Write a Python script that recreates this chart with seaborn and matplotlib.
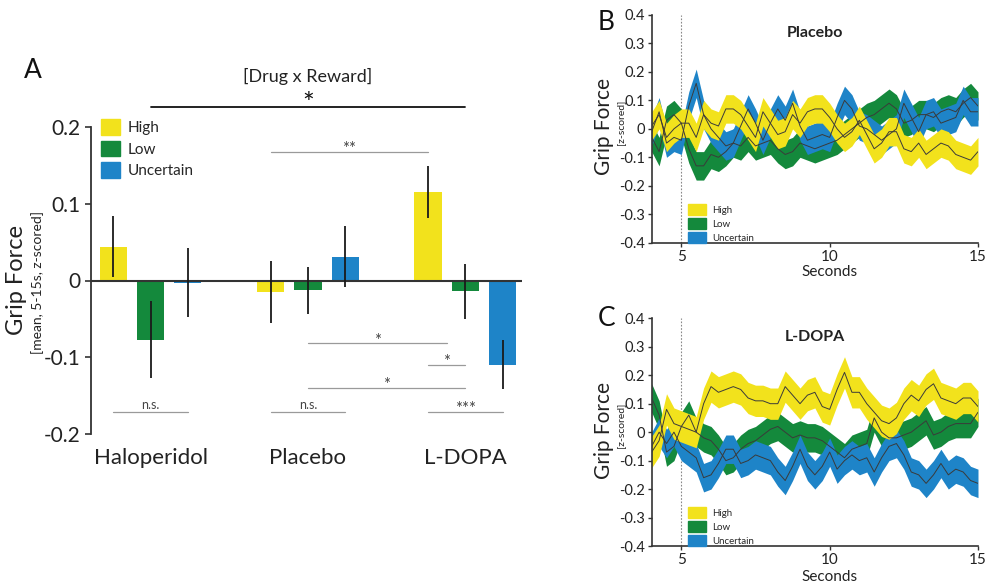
import matplotlib
matplotlib.use('Agg')
import matplotlib.pyplot as plt
import matplotlib.patches as mpatches
import seaborn as sns
import numpy as np
import pandas as pd

# ---- Panel A: mean grip force (5-15 s) per drug and reward ----
drugs = ['Haloperidol', 'Placebo', 'L-DOPA']
rewards = ['High', 'Low', 'Uncertain']
colors = ['#f2e21c', '#14893c', '#1e84c8']

high_mean = [0.044, -0.015, 0.115]
low_mean = [-0.077, -0.013, -0.014]
unc_mean = [-0.003, 0.031, -0.110]
high_err = [0.040, 0.040, 0.034]
low_err = [0.050, 0.030, 0.036]
unc_err = [0.045, 0.040, 0.032]

# ---- Panels B/C: grip force time courses (mean and band half-width) ----
t = [4.0, 4.25, 4.5, 4.75, 5.0, 5.25, 5.5, 5.75, 6.0, 6.25, 6.5, 6.75,
     7.0, 7.25, 7.5, 7.75, 8.0, 8.25, 8.5, 8.75, 9.0, 9.25, 9.5, 9.75,
     10.0, 10.25, 10.5, 10.75, 11.0, 11.25, 11.5, 11.75, 12.0, 12.25, 12.5, 12.75,
     13.0, 13.25, 13.5, 13.75, 14.0, 14.25, 14.5, 14.75, 15.0]

plc_high = [0.01, 0.05, -0.03, 0.00, 0.02, 0.02, -0.03, 0.05, 0.02, 0.01, 0.07, 0.07,
            0.05, 0.01, -0.03, 0.06, 0.02, -0.02, -0.01, 0.05, 0.02, 0.06, 0.07, 0.07,
            0.04, 0.00, -0.03, -0.01, 0.03, -0.02, -0.07, -0.05, -0.01, -0.01, -0.07, -0.08,
            -0.05, -0.09, -0.07, -0.05, -0.06, -0.09, -0.10, -0.11, -0.08]
plc_low = [-0.03, -0.08, 0.03, 0.05, 0.02, -0.07, -0.13, -0.13, -0.09, -0.10, -0.08, -0.05,
           -0.06, -0.03, -0.06, -0.05, -0.04, -0.07, -0.09, -0.08, -0.05, -0.06, -0.07, -0.06,
           -0.05, -0.04, -0.02, 0.00, 0.02, 0.04, 0.05, 0.07, 0.09, 0.07, 0.02, 0.03,
           0.05, 0.05, 0.04, 0.06, 0.07, 0.06, 0.09, 0.11, 0.08]
plc_unc = [-0.01, 0.06, -0.05, -0.03, -0.04, 0.08, 0.16, 0.05, 0.00, -0.03, -0.06, -0.05,
           0.01, 0.07, 0.02, -0.04, 0.02, 0.07, 0.03, 0.09, 0.01, -0.04, -0.03, -0.02,
           -0.03, 0.04, 0.10, 0.07, 0.01, 0.00, -0.02, -0.04, -0.02, 0.00, 0.09, 0.04,
           -0.01, 0.05, 0.06, 0.02, 0.03, 0.04, 0.10, 0.06, 0.06]

ldp_high = [-0.07, -0.03, 0.08, 0.03, 0.02, 0.01, 0.00, 0.10, 0.16, 0.14, 0.15, 0.16,
            0.15, 0.12, 0.11, 0.11, 0.10, 0.10, 0.16, 0.13, 0.10, 0.13, 0.14, 0.09,
            0.08, 0.15, 0.21, 0.14, 0.14, 0.10, 0.07, 0.04, 0.03, 0.05, 0.10, 0.13,
            0.11, 0.15, 0.17, 0.12, 0.11, 0.10, 0.12, 0.12, 0.09]
ldp_low = [0.12, 0.06, -0.07, -0.05, 0.02, 0.06, 0.00, -0.02, -0.03, -0.06, -0.10, -0.09,
           -0.06, -0.04, -0.03, -0.01, 0.01, 0.02, 0.00, -0.02, -0.01, -0.02, -0.02, -0.03,
           -0.05, -0.07, -0.09, -0.06, -0.05, -0.04, 0.05, 0.00, -0.02, -0.02, -0.01, 0.00,
           0.02, 0.04, -0.01, 0.00, 0.02, 0.03, 0.03, 0.03, 0.07]
ldp_unc = [-0.05, 0.00, -0.04, 0.00, -0.05, -0.07, -0.09, -0.16, -0.15, -0.11, -0.06, -0.06,
           -0.11, -0.10, -0.08, -0.09, -0.10, -0.14, -0.17, -0.12, -0.06, -0.12, -0.15, -0.12,
           -0.07, -0.13, -0.10, -0.08, -0.10, -0.09, -0.14, -0.09, -0.05, -0.04, -0.08, -0.14,
           -0.15, -0.18, -0.15, -0.11, -0.15, -0.13, -0.14, -0.17, -0.18]

plc_halfwidth = [0.05, 0.05, 0.05]
ldp_halfwidth = [0.055, 0.05, 0.05]

sns.set_style('ticks')
plt.rcParams['font.family'] = ['Lato', 'DejaVu Sans']
plt.rcParams['axes.unicode_minus'] = False

W, H = 988, 588
fig = plt.figure(figsize=(W / 100, H / 100), dpi=100)


def fx(x):
    return x / W


def fy(y):
    return 1 - y / H


def ylab(v):
    return '0' if abs(v) < 1e-9 else f'{v:.1f}'


# ================= Panel A =================
axA = fig.add_axes([fx(90.7), fy(434), fx(522) - fx(90.7), fy(127) - fy(434)])
df = pd.DataFrame({
    'drug': drugs * 3,
    'reward': [r for r in rewards for _ in drugs],
    'value': high_mean + low_mean + unc_mean,
})
sns.barplot(data=df, x='drug', y='value', hue='reward', order=drugs, hue_order=rewards,
            palette=colors, saturation=1, width=0.71, gap=0.27, errorbar=None,
            legend=False, edgecolor='none', ax=axA)

centers = {}
for cont, rw, means, errs in zip(axA.containers, rewards,
                                 [high_mean, low_mean, unc_mean],
                                 [high_err, low_err, unc_err]):
    xs = [b.get_x() + b.get_width() / 2 for b in cont]
    centers[rw] = xs
    axA.errorbar(xs, means, yerr=errs, fmt='none', ecolor='#1a1a1a', elinewidth=1.3,
                 capsize=0, zorder=4)

axA.set_xlim(-0.38, 2.36)
axA.set_ylim(-0.2, 0.2)
axA.axhline(0, color='#333333', lw=1.5, zorder=3)
sns.despine(ax=axA, bottom=True)
axA.spines['left'].set_color('#333333')
axA.spines['left'].set_linewidth(1.3)
yt = [0.2, 0.1, 0.0, -0.1, -0.2]
axA.set_yticks(yt)
axA.set_yticklabels([ylab(v) for v in yt], fontsize=15, color='#222222')
axA.tick_params(axis='y', direction='out', length=4, width=1.2, pad=3, color='#333333')
axA.tick_params(axis='x', length=0, pad=10)
axA.set_xticks([0, 1, 2])
axA.set_xticklabels(drugs, fontsize=16, color='#222222')
axA.set_xlabel('')
axA.set_ylabel('')

fig.text(fx(17), fy(280), 'Grip Force', rotation=90, fontsize=17, ha='center', va='center',
         color='#222222')
fig.text(fx(38), fy(282), '[mean, 5-15s, z-scored]', rotation=90, fontsize=10,
         ha='center', va='center', color='#222222')
fig.text(fx(33), fy(70), 'A', fontsize=19, ha='center', va='center', color='#111111')

handles = [mpatches.Patch(color=c, label=r) for c, r in zip(colors, rewards)]
axA.legend(handles=handles, loc='upper left', bbox_to_anchor=(0.024, 1.025), frameon=False,
           fontsize=11, handlelength=1.25, handleheight=1.2, labelspacing=0.35,
           handletextpad=0.5, borderpad=0, borderaxespad=0)

# significance annotations
gray = '#9a9a9a'


def bracket(x0, x1, y, label, size=12, off=-1.5):
    axA.plot([x0, x1], [y, y], color=gray, lw=0.9, clip_on=False, zorder=2)
    axA.annotate(label, xy=((x0 + x1) / 2, y), xytext=(0, off), textcoords='offset points',
                 ha='center', va='baseline', fontsize=size, color='#444444',
                 annotation_clip=False)


ld_mid = (centers['High'][2] + centers['Low'][2]) / 2
bracket(centers['High'][1], centers['High'][2], 0.167, '**')
bracket(centers['Low'][1], ld_mid, -0.082, '*')
bracket(centers['High'][2], centers['Low'][2], -0.110, '*')
bracket(centers['Low'][1], centers['Low'][2], -0.140, '*')
bracket(centers['High'][0], centers['Uncertain'][0], -0.171, 'n.s.', size=9, off=2)
bracket(centers['High'][1], centers['Uncertain'][1], -0.171, 'n.s.', size=9, off=2)
bracket(centers['High'][2], centers['Uncertain'][2], -0.171, '***')

axA.plot([0, 2], [0.226, 0.226], color='#111111', lw=1.3, clip_on=False)
axA.annotate('*', xy=(1, 0.226), xytext=(0, -4), textcoords='offset points', ha='center',
             va='baseline', fontsize=20, color='#111111', annotation_clip=False)
axA.text(1, 0.266, '[Drug x Reward]', ha='center', va='center', fontsize=13,
         color='#222222', clip_on=False)


# ================= Panels B and C =================
def trace_panel(rect, title, letter, letter_pos, high, low, unc, hw, sec_y):
    ax = fig.add_axes(rect)
    series = [('Low', low, hw[1], colors[1]),
              ('Uncertain', unc, hw[2], colors[2]),
              ('High', high, hw[0], colors[0])]
    for name, vals, w, c in series:
        v = np.array(vals)
        ax.fill_between(t, v - w, v + w, color=c, lw=0, zorder=2)
        sns.lineplot(x=t, y=vals, color='#3a3a3a', lw=0.7, ax=ax, zorder=3)
    ax.axvline(5, color='#888888', lw=0.8, ls=(0, (1.5, 1.5)), zorder=1)
    ax.set_xlim(4.0, 15.0)
    ax.set_ylim(-0.4, 0.4)
    sns.despine(ax=ax)
    for s in ['left', 'bottom']:
        ax.spines[s].set_color('#333333')
        ax.spines[s].set_linewidth(1.2)
    yts = [0.4, 0.3, 0.2, 0.1, 0.0, -0.1, -0.2, -0.3, -0.4]
    ax.set_yticks(yts)
    ax.set_yticklabels([ylab(v) for v in yts], fontsize=10.5, color='#222222')
    ax.set_xticks([5, 10, 15])
    ax.set_xticklabels(['5', '10', '15'], fontsize=11, color='#222222')
    ax.tick_params(direction='out', length=3, width=1.0, pad=2, color='#333333')
    ax.set_xlabel('')
    ax.set_ylabel('')
    ax.text(0.5, 1.0 - 0.08, title, transform=ax.transAxes, ha='center', va='center',
            fontsize=11.5, fontweight='bold', color='#222222')
    ax.legend(handles=[mpatches.Patch(color=c, label=r) for c, r in zip(colors, rewards)],
              loc='lower left', bbox_to_anchor=(0.11, 0.0), frameon=False, fontsize=7,
              handlelength=1.9, handleheight=1.3, labelspacing=0.35, handletextpad=0.6,
              borderpad=0, borderaxespad=0)
    top_px = (1 - rect[1] - rect[3]) * H
    bot_px = (1 - rect[1]) * H
    mid_px = (top_px + bot_px) / 2
    fig.text(fx(604), fy(mid_px - 2), 'Grip Force', rotation=90, fontsize=15, ha='center',
             va='center', color='#222222')
    fig.text(fx(621), fy(mid_px - 7), '[z-scored]', rotation=90, fontsize=7.5, ha='center',
             va='center', color='#222222')
    fig.text(fx(830), fy(sec_y), 'Seconds', fontsize=11, ha='center', va='center',
             color='#222222')
    fig.text(fx(letter_pos[0]), fy(letter_pos[1]), letter, fontsize=19, ha='center',
             va='center', color='#111111')
    return ax


right = 978
axB = trace_panel([fx(651.7), fy(242.7), fx(right) - fx(651.7), fy(15) - fy(242.7)],
                  'Placebo', 'B', (606, 23), plc_high, plc_low, plc_unc, plc_halfwidth, 271.7)
axC = trace_panel([fx(651.7), fy(546), fx(right) - fx(651.7), fy(318.3) - fy(546)],
                  'L-DOPA', 'C', (607, 319), ldp_high, ldp_low, ldp_unc, ldp_halfwidth, 576.7)

fig.savefig('out.png', dpi=100)
